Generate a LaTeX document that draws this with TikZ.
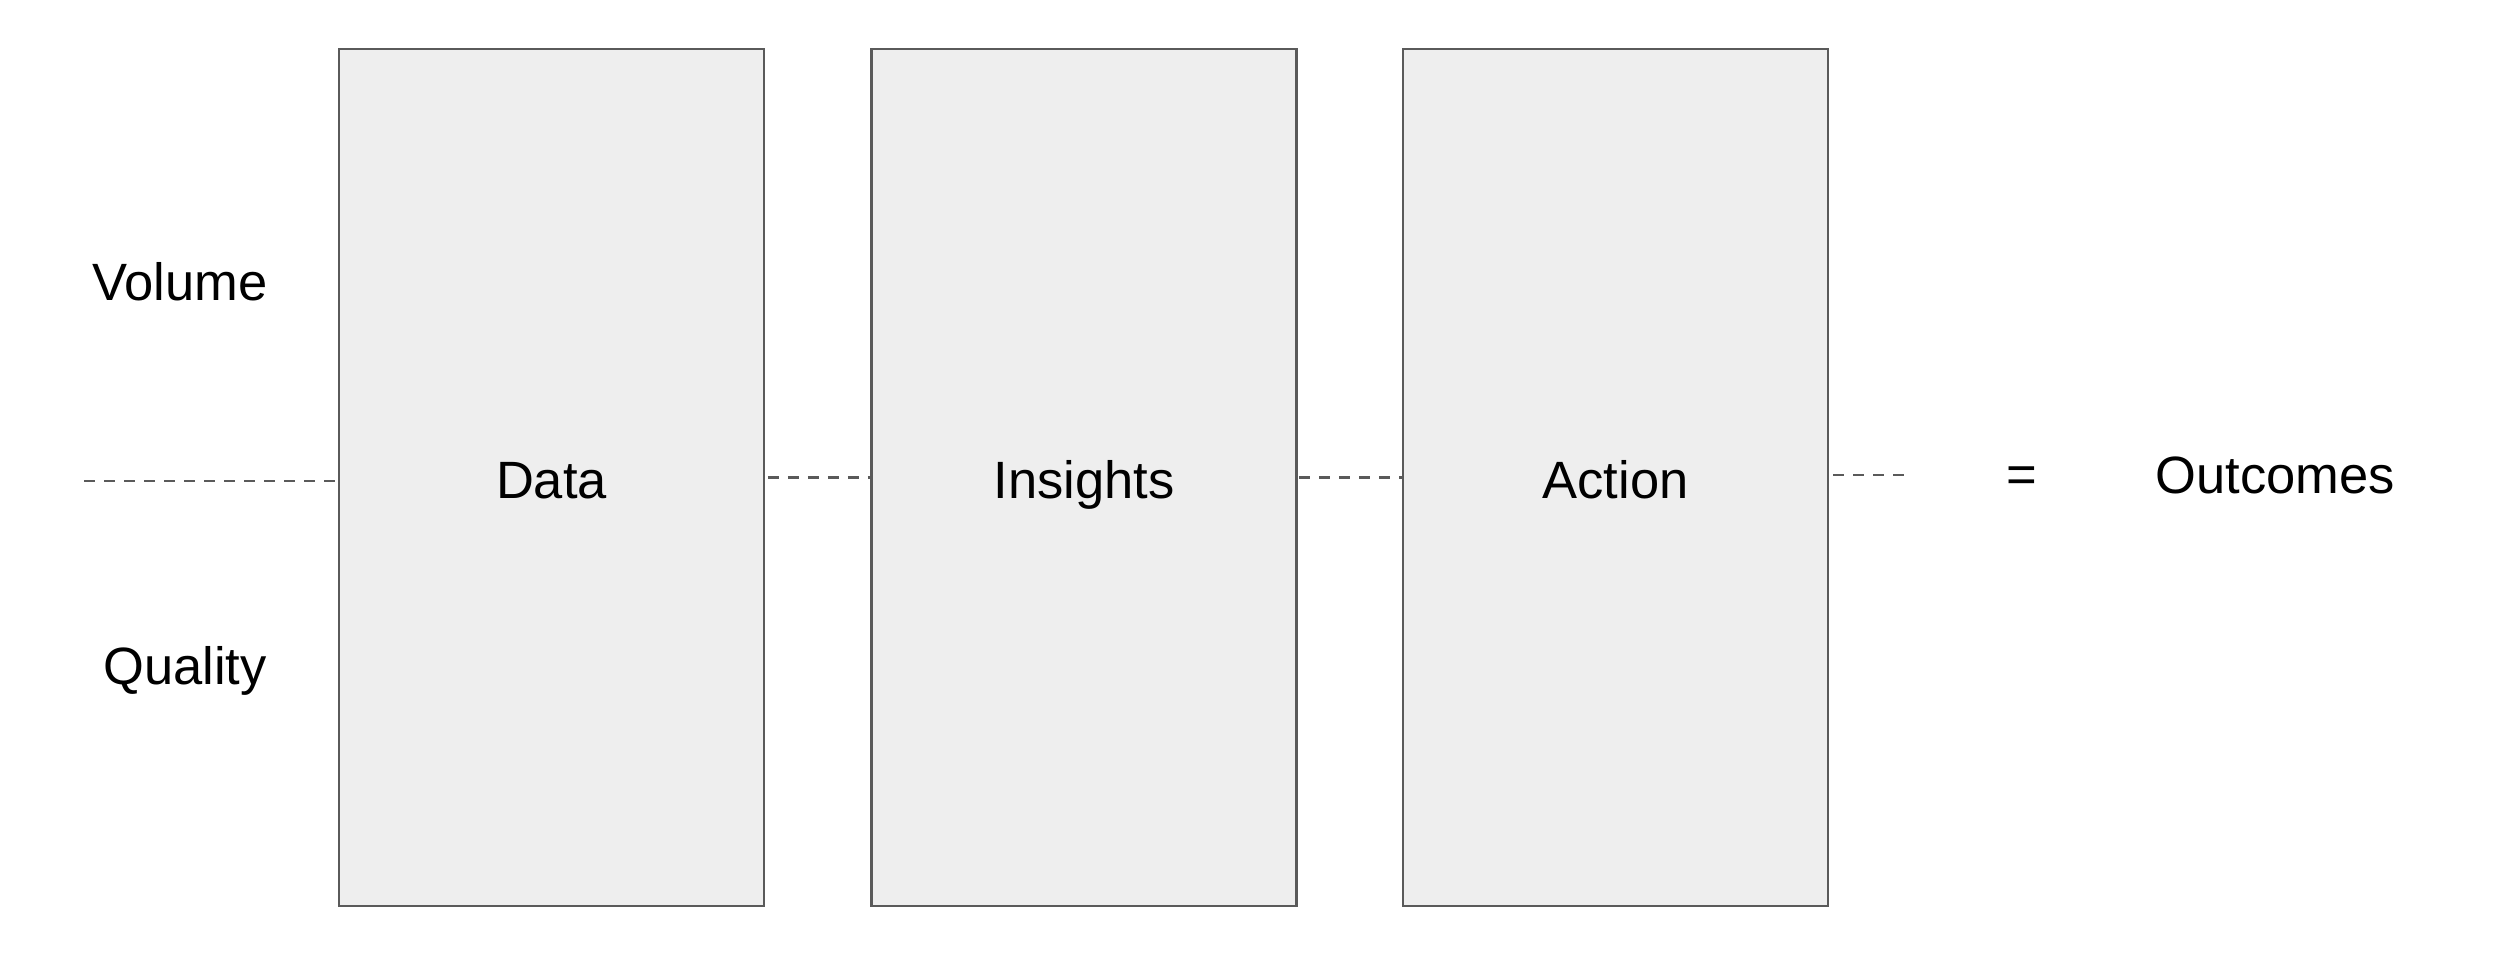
\documentclass[tikz,border=0pt]{standalone}
\usepackage{fontspec}
\setmainfont{Liberation Sans}
\usetikzlibrary{arrows.meta}
\definecolor{boxfill}{HTML}{EEEEEE}
\definecolor{boxline}{HTML}{5A5A5A}

\begin{document}
\begin{tikzpicture}[x=0.4pt,y=-0.4pt,font=\fontsize{21}{25}\selectfont]
\useasboundingbox (0,0) rectangle (2500,964);
\begin{scope}[every node/.style={rectangle,draw=boxline,line width=1pt,fill=boxfill,
              minimum width=170pt,minimum height=342.8pt,inner sep=0pt,outer sep=0pt,
              text height=16.5pt,text depth=0pt}]
    \node (data) at (551.5,477.5) {Data};
    \node (insights) at (1084,477.5) {Insights};
    \node (action) at (1615.5,477.5) {Action};
\end{scope}
\begin{scope}[every node/.style={inner sep=0pt}]
    \node (volume) at (180,282) {Volume};
    \node (quality) at (185,671) {Quality};
    \node (equals) at (2022,480) {=};
    \node (outcomes) at (2275,475) {Outcomes};
\end{scope}
\coordinate (start) at (84,481);
\coordinate (finish) at (1907,475);
\begin{scope}[every edge/.style={draw=boxline,line width=1.1pt,dash pattern=on 4.4pt off 3.6pt}]
    \path (start) edge (start -| data.west);
    \path (data.east) edge[shorten <=1.5pt] (insights.west);
    \path (insights.east) edge[shorten <=1pt] (action.west);
    \path (action.east |- finish) edge[shorten <=2pt] (finish);
\end{scope}
\end{tikzpicture}
\end{document}
